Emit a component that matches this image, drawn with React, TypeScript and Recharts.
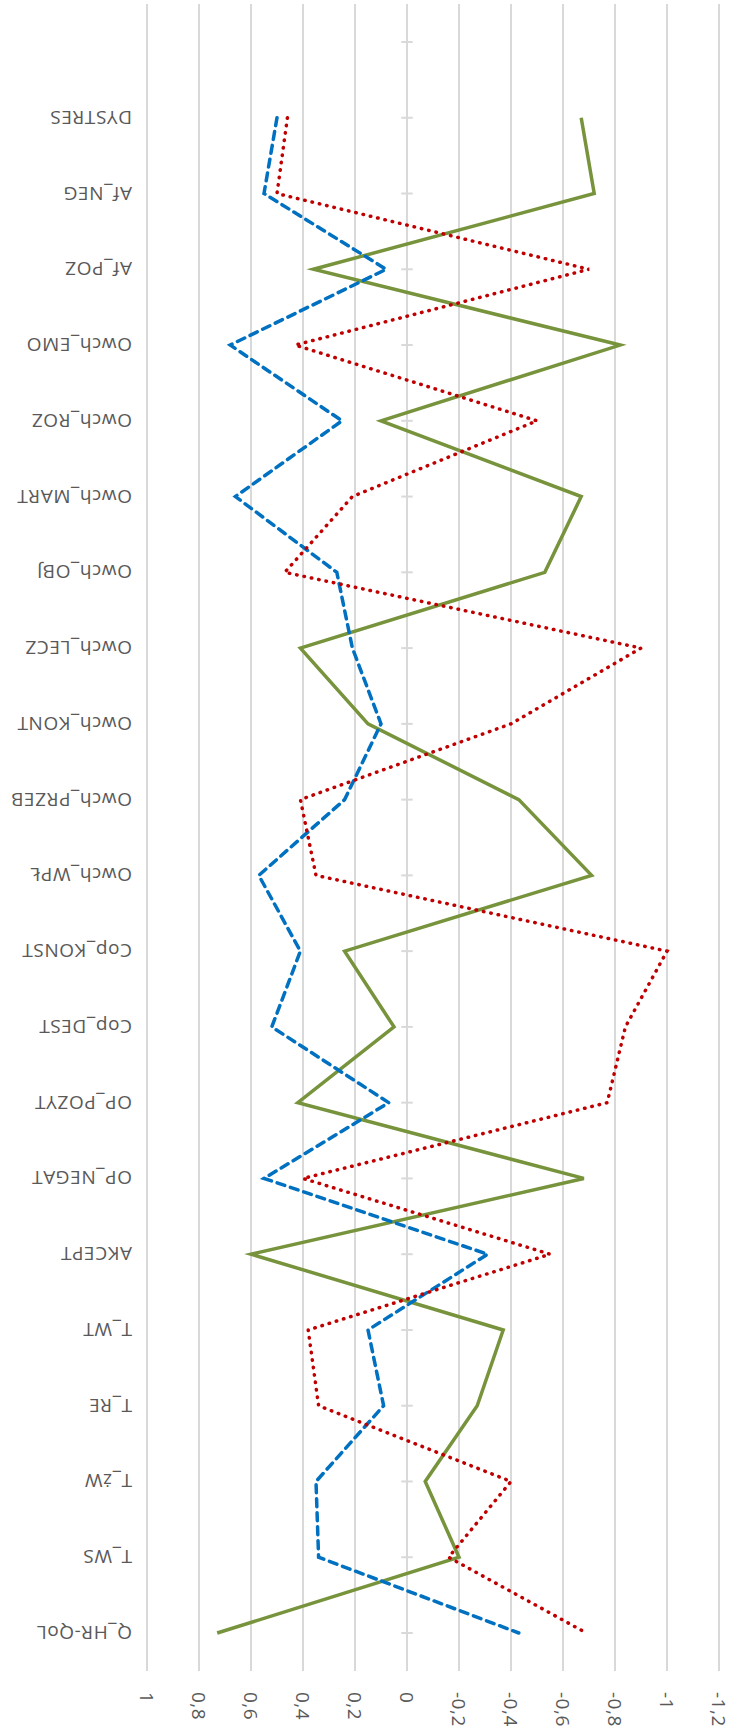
import { LineChart, Line, XAxis, YAxis, CartesianGrid, ReferenceLine } from 'recharts';

// top slot is an empty category, then the labels top to bottom
const categories = [
  '', 'DYSTRES', 'Af_NEG', 'Af_POZ', 'Owch_EMO', 'Owch_ROZ', 'Owch_MART', 'Owch_OBJ',
  'Owch_LECZ', 'Owch_KONT', 'Owch_PRZEB', 'Owch_WPŁ', 'Cop_KONST', 'Cop_DEST',
  'OP_POZYT', 'OP_NEGAT', 'AKCEPT', 'T_WT', 'T_RE', 'T_żW', 'T_WS', 'Q_HR-QoL',
];

const greenSeries = [
  null, -0.67, -0.72, 0.36, -0.82, 0.1, -0.67, -0.53, 0.41, 0.15, -0.43, -0.71,
  0.24, 0.05, 0.42, -0.68, 0.6, -0.37, -0.27, -0.07, -0.2, 0.73,
];
const blueSeries = [
  null, 0.5, 0.55, 0.08, 0.68, 0.25, 0.66, 0.27, 0.21, 0.1, 0.24, 0.57,
  0.41, 0.52, 0.07, 0.55, -0.31, 0.15, 0.09, 0.35, 0.34, -0.43,
];
const redSeries = [
  null, 0.46, 0.5, -0.7, 0.43, -0.5, 0.21, 0.47, -0.9, -0.4, 0.41, 0.35,
  -1.0, -0.84, -0.77, 0.4, -0.55, 0.38, 0.34, -0.4, -0.16, -0.69,
];

const valueTicks = [1, 0.8, 0.6, 0.4, 0.2, 0, -0.2, -0.4, -0.6, -0.8, -1, -1.2];

const data = categories.map((name, i) => ({
  name,
  green: greenSeries[i],
  blue: blueSeries[i],
  red: redSeries[i],
}));

const FONT = '"Open Sans", sans-serif';
const LABEL = '#595959';

const fmt = (v: number) => String(Math.round(v * 10) / 10).replace('.', ',');

function CategoryTick({ x, y, payload }: any) {
  return (
    <text
      x={x}
      y={y}
      transform={`rotate(180 ${x} ${y})`}
      textAnchor="start"
      dominantBaseline="central"
      fill={LABEL}
      fontFamily={FONT}
      fontSize={19}
      letterSpacing={0.6}
    >
      {payload.value}
    </text>
  );
}

function ValueTick({ x, y, payload }: any) {
  return (
    <text
      x={x}
      y={y}
      transform={`rotate(90 ${x} ${y})`}
      textAnchor="start"
      dominantBaseline="central"
      fill={LABEL}
      fontFamily={FONT}
      fontSize={19}
      letterSpacing={0.5}
    >
      {fmt(payload.value)}
    </text>
  );
}

export default function App() {
  return (
    <div style={{ position: 'absolute', left: 0, top: 0, width: 729, height: 1735, background: '#fff' }}>
      <LineChart
        width={729}
        height={1735}
        data={data}
        layout="vertical"
        margin={{ top: 4, right: 10, left: 0, bottom: 0 }}
      >
        <CartesianGrid horizontal={false} stroke="#d9d9d9" strokeWidth={2} />
        <XAxis
          type="number"
          domain={[-1.2, 1]}
          ticks={valueTicks}
          reversed
          axisLine={false}
          tickLine={false}
          tickSize={0}
          tickMargin={21}
          height={64}
          interval={0}
          tick={<ValueTick />}
        />
        <YAxis
          type="category"
          dataKey="name"
          width={147}
          padding={{ top: 38, bottom: 38 }}
          axisLine={false}
          tickLine={false}
          tickSize={0}
          tickMargin={15}
          interval={0}
          tick={<CategoryTick />}
        />
        {categories.map((c) => (
          <ReferenceLine
            key={'t' + c}
            segment={[{ x: 0.022, y: c }, { x: -0.022, y: c }]}
            stroke="#d9d9d9"
            strokeWidth={2}
          />
        ))}
        <Line
          dataKey="green"
          stroke="#77933c"
          strokeWidth={3.5}
          dot={false}
          isAnimationActive={false}
        />
        <Line
          dataKey="blue"
          stroke="#0070c0"
          strokeWidth={3.5}
          strokeDasharray="8 6"
          strokeLinecap="round"
          dot={false}
          isAnimationActive={false}
        />
        <Line
          dataKey="red"
          stroke="#c00000"
          strokeWidth={3.5}
          strokeDasharray="0.5 7"
          strokeLinecap="round"
          dot={false}
          isAnimationActive={false}
        />
      </LineChart>
    </div>
  );
}
